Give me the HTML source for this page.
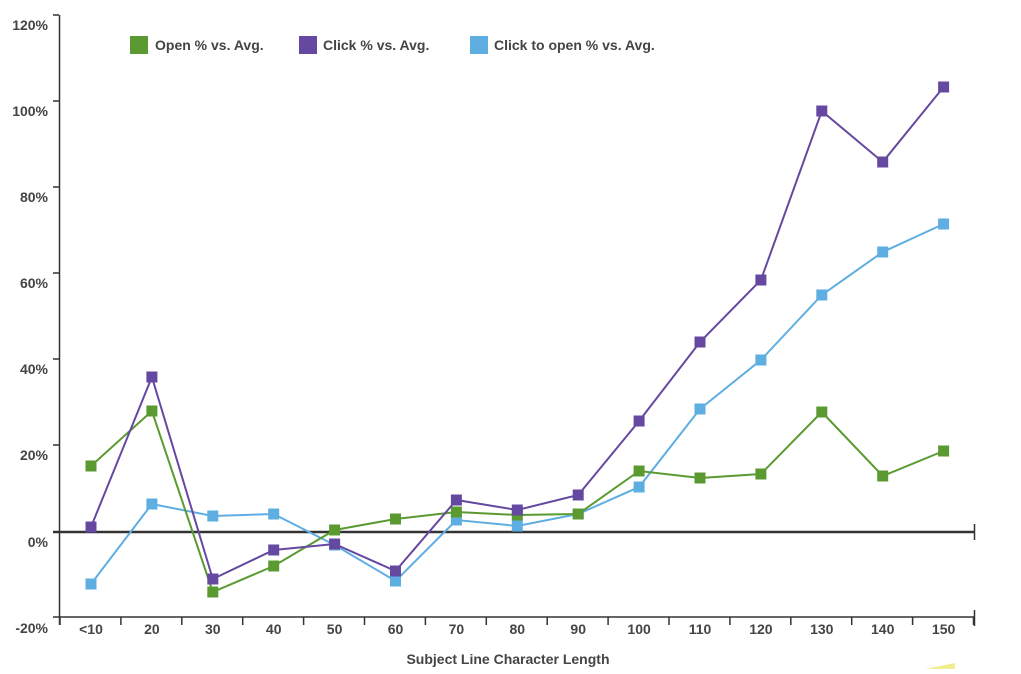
<!DOCTYPE html>
<html><head><style>
body{margin:0;background:#fff;}
svg text{font-family:"Liberation Sans",sans-serif;font-weight:bold;fill:#444;}
</style></head><body>
<svg width="1021" height="669" viewBox="0 0 1021 669" xmlns="http://www.w3.org/2000/svg">
<g stroke="#333" stroke-width="1.5" fill="none">
<line x1="59.5" y1="15" x2="59.5" y2="625"/>
<line x1="59" y1="617" x2="975" y2="617"/>
<line x1="53" y1="15" x2="59" y2="15"/><line x1="53" y1="101" x2="59" y2="101"/><line x1="53" y1="187" x2="59" y2="187"/><line x1="53" y1="273" x2="59" y2="273"/><line x1="53" y1="359" x2="59" y2="359"/><line x1="53" y1="445" x2="59" y2="445"/><line x1="53" y1="617" x2="59" y2="617"/>
<line x1="974.5" y1="524" x2="974.5" y2="540"/>
<line x1="974.5" y1="610" x2="974.5" y2="626"/>
</g>
<g stroke="#333" stroke-width="1.5" id="ticks"></g>
<line x1="53" y1="532" x2="975" y2="532" stroke="#333" stroke-width="2.5"/>
<g font-size="14" text-anchor="end">
<text x="48" y="30">120%</text><text x="48" y="116">100%</text><text x="48" y="202">80%</text><text x="48" y="288">60%</text><text x="48" y="374">40%</text><text x="48" y="460">20%</text><text x="48" y="547">0%</text><text x="48" y="633">-20%</text>
</g>
<g font-size="14" text-anchor="middle" id="xl"></g>
<text x="508" y="664" font-size="14" text-anchor="middle">Subject Line Character Length</text>
<rect x="130" y="36" width="18" height="18" fill="#5b9a31"/><text x="155" y="50" font-size="14">Open % vs. Avg.</text>
<rect x="299" y="36" width="18" height="18" fill="#6548a0"/><text x="323" y="50" font-size="14">Click % vs. Avg.</text>
<rect x="470" y="36" width="18" height="18" fill="#5faee2"/><text x="494" y="50" font-size="14">Click to open % vs. Avg.</text>
<polygon points="925,669 955,663 955,669" fill="#f0ec90"/>
<g id="series"></g>
</svg>
<script>
var ns="http://www.w3.org/2000/svg";
function cx(i){return 91+60.9*i;}
var labels=["<10","20","30","40","50","60","70","80","90","100","110","120","130","140","150"];
var t=document.getElementById("ticks"),xl=document.getElementById("xl");
for(var i=0;i<16;i++){var l=document.createElementNS(ns,"line");var x=60+60.9*i;l.setAttribute("x1",x);l.setAttribute("x2",x);l.setAttribute("y1",617);l.setAttribute("y2",625);t.appendChild(l);}
labels.forEach(function(s,i){var e=document.createElementNS(ns,"text");e.setAttribute("x",cx(i));e.setAttribute("y",634);e.textContent=s;xl.appendChild(e);});
var data=[
["#5faee2",[584,504,516,514,545,581,520,526,514,487,409,360,295,252,224]],
["#5b9a31",[466,411,592,566,530,519,512,515,514,471,478,474,412,476,451]],
["#6548a0",[527,377,579,550,544,571,500,510,495,421,342,280,111,162,87]]
];
var g=document.getElementById("series");
data.forEach(function(d){
 var p=document.createElementNS(ns,"polyline");
 p.setAttribute("points",d[1].map(function(y,i){return cx(i)+","+y;}).join(" "));
 p.setAttribute("fill","none");p.setAttribute("stroke",d[0]);p.setAttribute("stroke-width","2");g.appendChild(p);
 d[1].forEach(function(y,i){var r=document.createElementNS(ns,"rect");r.setAttribute("x",cx(i)-5.5);r.setAttribute("y",y-5.5);r.setAttribute("width",11);r.setAttribute("height",11);r.setAttribute("fill",d[0]);g.appendChild(r);});
});
</script>
</body></html>
